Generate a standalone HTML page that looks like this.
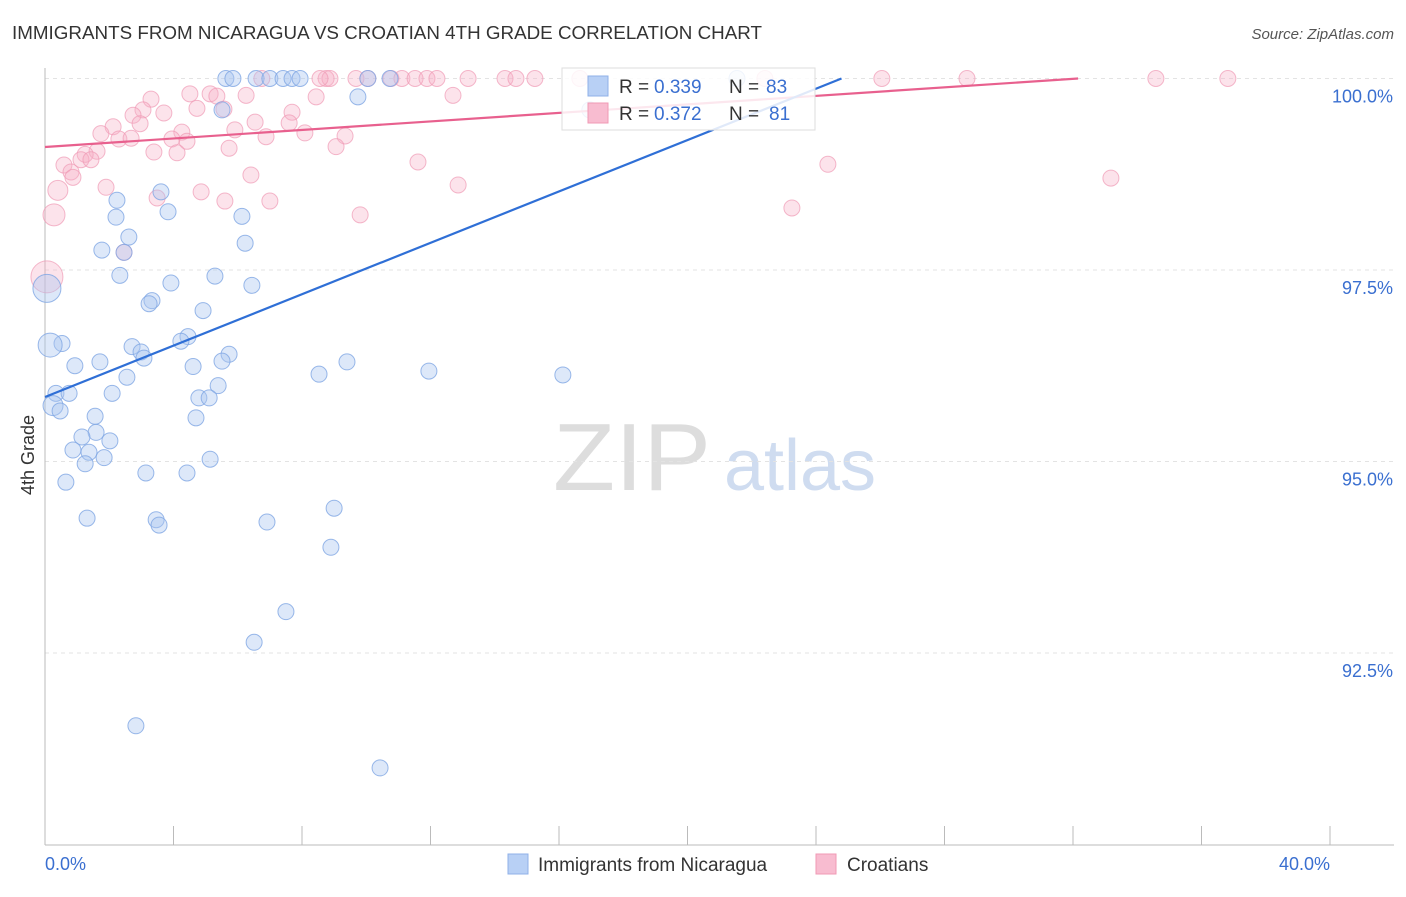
<!DOCTYPE html>
<html><head><meta charset="utf-8"><style>
body{margin:0;background:#fff;font-family:"Liberation Sans",sans-serif;}
svg text{font-family:"Liberation Sans",sans-serif;}
</style></head><body>
<svg id="chart" width="1406" height="892" xmlns="http://www.w3.org/2000/svg">
<text x="12" y="39" font-size="18" fill="#333" textLength="750" lengthAdjust="spacingAndGlyphs">IMMIGRANTS FROM NICARAGUA VS CROATIAN 4TH GRADE CORRELATION CHART</text>
<text x="1394" y="39" font-size="15" fill="#555" text-anchor="end" font-style="italic">Source: ZipAtlas.com</text>
<text x="632" y="490" font-size="96" fill="#ddd" text-anchor="middle" font-family="Liberation Serif" textLength="158" lengthAdjust="spacingAndGlyphs">ZIP</text>
<text x="800" y="490" font-size="72" fill="#cfdcf0" text-anchor="middle">atlas</text>
<text x="34" y="455" font-size="18" fill="#333" text-anchor="middle" transform="rotate(-90 34 455)">4th Grade</text>
<g id="grid"></g><g id="pts"></g><g id="lines"></g>
<g>
<rect x="562" y="68" width="253" height="62" fill="#fff" fill-opacity="0.85" stroke="#ddd"/>
<rect x="588" y="76" width="20" height="20" fill="#b8d0f5" stroke="#8fb0e8"/>
<rect x="588" y="103" width="20" height="20" fill="#f8bcd0" stroke="#f09ab5"/>
<text x="619" y="93" font-size="19" fill="#333">R =</text>
<text x="654" y="93" font-size="19" fill="#3a6fd0">0.339</text>
<text x="729" y="93" font-size="19" fill="#333">N =</text>
<text x="766" y="93" font-size="19" fill="#3a6fd0">83</text>
<text x="619" y="120" font-size="19" fill="#333">R =</text>
<text x="654" y="120" font-size="19" fill="#3a6fd0">0.372</text>
<text x="729" y="120" font-size="19" fill="#333">N =</text>
<text x="769" y="120" font-size="19" fill="#3a6fd0">81</text>
</g>
<g>
<rect x="508" y="854" width="20" height="20" fill="#b8d0f5" stroke="#8fb0e8"/>
<text x="538" y="871" font-size="19" fill="#333">Immigrants from Nicaragua</text>
<rect x="816" y="854" width="20" height="20" fill="#f8bcd0" stroke="#f09ab5"/>
<text x="847" y="871" font-size="19" fill="#333">Croatians</text>
</g>
</svg>
<script>
const blueX=[5.63,5.85,6.57,7.00,7.41,7.69,7.94,10.05,10.74,21.54,9.74,5.51,16.96,3.61,2.24,3.83,2.21,6.13,2.61,6.23,1.77,2.46,2.33,5.29,3.92,6.44,0.06,3.33,3.24,4.92,4.45,4.23,2.71,0.53,0.16,2.99,3.08,5.73,5.51,9.40,1.71,0.93,4.61,11.95,16.12,8.53,2.55,5.39,0.34,0.75,2.09,4.79,5.11,0.25,0.47,1.56,4.70,1.59,1.15,2.02,0.87,1.37,1.84,5.14,1.25,3.14,4.42,0.65,9.00,1.31,3.46,3.55,6.91,8.90,7.50,6.51,2.83,10.43];
const blueY=[100,100,100,100,100,100,100,100,100,100,99.76,99.59,99.59,98.52,98.41,98.26,98.19,98.20,97.93,97.85,97.76,97.73,97.43,97.42,97.33,97.30,97.26,97.10,97.06,96.97,96.63,96.57,96.50,96.54,96.52,96.43,96.35,96.40,96.31,96.30,96.30,96.25,96.24,96.18,96.13,96.14,96.10,95.99,95.89,95.89,95.89,95.83,95.83,95.73,95.66,95.59,95.57,95.38,95.32,95.27,95.15,95.12,95.05,95.03,94.97,94.85,94.85,94.73,94.39,94.26,94.24,94.17,94.21,93.88,93.04,92.64,91.55,91.00];
const blueR=[8,8,8,8,8,8,8,8,8,8,8,8,8,8,8,8,8,8,8,8,8,8,8,8,8,8,14,8,8,8,8,8,8,8,12,8,8,8,8,8,8,8,8,8,8,8,8,8,8,8,8,8,8,10,8,8,8,8,8,8,8,8,8,8,8,8,8,8,8,8,8,8,8,8,8,8,8,8];
const pinkX=[9.68,10.05,10.77,11.11,11.52,11.89,12.20,13.17,14.32,14.66,15.25,16.65,8.75,8.87,8.56,6.75,26.05,28.70,34.58,36.82,22.41,4.51,5.14,5.35,6.26,3.30,8.44,3.05,3.70,4.73,5.57,2.74,7.69,12.70,6.54,2.96,2.12,7.60,1.74,4.26,5.91,8.09,6.88,3.95,2.30,4.42,2.68,9.34,5.73,1.62,3.39,4.11,9.06,1.25,1.12,1.43,0.59,24.37,11.61,0.81,0.87,6.41,33.18,1.90,12.86,4.86,0.40,3.49,5.60,7.00,23.25,9.81,0.28,2.46,0.06];
const pinkY=[100,100,100,100,100,100,100,100,100,100,100,100,100,100,100,100,100,100,100,100,100,99.80,99.80,99.77,99.78,99.73,99.76,99.59,99.55,99.61,99.60,99.52,99.56,99.78,99.43,99.41,99.37,99.42,99.28,99.30,99.33,99.29,99.24,99.21,99.21,99.18,99.22,99.25,99.09,99.05,99.04,99.03,99.11,99.01,98.94,98.94,98.87,98.88,98.91,98.78,98.71,98.74,98.70,98.58,98.61,98.52,98.54,98.44,98.40,98.40,98.31,98.22,98.22,97.73,97.41];
const pinkR=[8,8,8,8,8,8,8,8,8,8,8,8,8,8,8,8,8,8,8,8,8,8,8,8,8,8,8,8,8,8,8,8,8,8,8,8,8,8,8,8,8,8,8,8,8,8,8,8,8,8,8,8,8,8,8,8,8,8,8,8,8,8,8,8,8,8,10,8,8,8,8,8,11,8,16];
const trendBlue=[95.842,0.1677];
const trendPink=[99.106,0.0278];
const yTicks=[100,97.5,95,92.5];
const yTickLabels=["100.0%","97.5%","95.0%","92.5%"];
const xTicks=[0,4,8,12,16,20,24,28,32,36,40];
const xLabels=[[0,"0.0%"],[40,"40.0%"]];
const NS="http://www.w3.org/2000/svg";
const sx=v=>45+v/40*1285;
const sy=v=>78.5+(100-v)/2.5*191.5;
function mk(t,a,p){const e=document.createElementNS(NS,t);for(const k in a)e.setAttribute(k,a[k]);p.appendChild(e);return e;}
const g=document.getElementById('grid');
yTicks.forEach((t,i)=>{
 const l=mk('line',{x1:45,x2:1394,y1:sy(t),y2:sy(t),stroke:'#e3e3e3','stroke-dasharray':'4 4'},g);
 
 
 const tx=mk('text',{x:1393,y:sy(t)+24,'font-size':18,fill:'#3a6fd0','text-anchor':'end'},g);
 tx.textContent=yTickLabels[i];
 
 
});
const ax=mk('line',{x1:45,x2:1394,y1:845,y2:845,stroke:'#bbb'},g);


const ay=mk('line',{x1:45,x2:45,y1:68,y2:845,stroke:'#bbb'},g);


xTicks.forEach(t=>{
 const l=mk('line',{x1:sx(t),x2:sx(t),y1:826,y2:845,stroke:'#bbb'},g);
 
 
});
xLabels.forEach(([v,s])=>{
 const tx=mk('text',{x:sx(v),y:870,'font-size':18,fill:'#3a6fd0','text-anchor':v==0?'start':'end'},g);
 tx.textContent=s;
 
 
});
const P=document.getElementById('pts');
pinkX.forEach((x,i)=>{
 const c=mk('circle',{cx:sx(x),cy:sy(pinkY[i]),r:pinkR[i],fill:'#f6aec6','fill-opacity':0.35,stroke:'#f09ab5','stroke-opacity':0.7},P);
 
 
});
blueX.forEach((x,i)=>{
 const c=mk('circle',{cx:sx(x),cy:sy(blueY[i]),r:blueR[i],fill:'#a9c6f0','fill-opacity':0.4,stroke:'#7fa6e4','stroke-opacity':0.8},P);
 
 
});
const L=document.getElementById('lines');
function trend(tr,col,name){
 const x1=Math.min(40,(100-tr[0])/tr[1]);
 const l=mk('line',{x1:sx(0),y1:sy(tr[0]),x2:sx(x1),y2:sy(tr[0]+tr[1]*x1),stroke:col,'stroke-width':2.2},L);
 
 
}
trend(trendPink,'#e8608e','croatians-trend-line');
trend(trendBlue,'#2f6fd6','nicaragua-trend-line');
</script>
</body></html>
